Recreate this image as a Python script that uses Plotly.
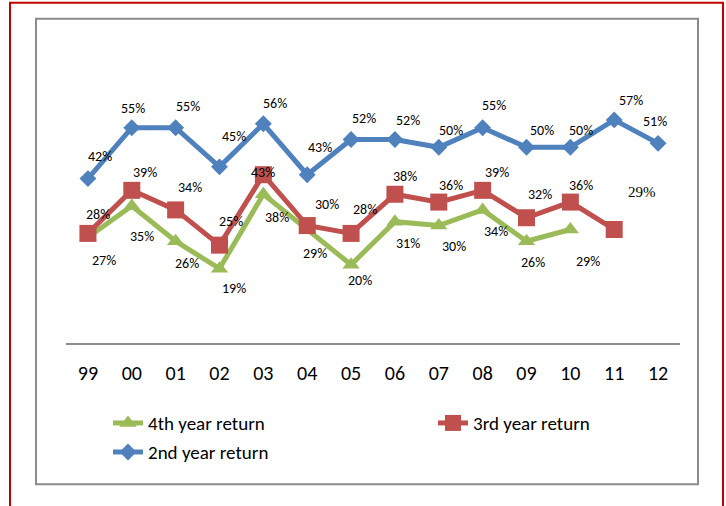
import plotly.graph_objects as go

# ---------------- data ----------------
years = ["99", "00", "01", "02", "03", "04", "05", "06", "07", "08", "09", "10", "11", "12"]
ret_4th = [27, 35, 26, 19, 38, 29, 20, 31, 30, 34, 26, 29]
ret_3rd = [28, 39, 34, 25, 43, 30, 28, 38, 36, 39, 32, 36, 29]
ret_2nd = [42, 55, 55, 45, 56, 43, 52, 52, 50, 55, 50, 50, 57, 51]

# label offsets in px (dx right, dy down) -- styling only
off_4th = [(16, 23), (10, 30), (11, 22), (14, 20), (14, 23), (8, 24), (9, 16),
           (13, 22), (15, 21), (13, 22), (6, 21), (18, 32)]
off_3rd = [(10, -19), (13, -18), (14, -22), (11, -24), (0, -2), (20, -21), (14, -24),
           (10, -18), (12, -17), (14, -18), (13, -23), (11, -17), (28, -37)]
off_2nd = [(12, -22), (1, -19), (12, -21), (14, -30), (12, -20), (13, -27), (13, -21),
           (13, -19), (12, -17), (11, -22), (15, -17), (11, -17), (17, -19), (-3, -22)]

GREEN, RED, BLUE = "#9BBB59", "#C0504D", "#4F81BD"
FONT = "Calibri, Carlito, Lato, sans-serif"
SERIF = "Liberation Serif"

W, H = 726, 506
L, R_EDGE, AXIS_Y = 66, 680, 343
YMAX = 70
PX_PER_UNIT = 3.91
T = AXIS_Y - YMAX * PX_PER_UNIT
PW, PH = R_EDGE - L, AXIS_Y - T


def px_x(px):
    return (px - L) / PW


def px_y(py):
    return (AXIS_Y - py) / PH


fig = go.Figure()

fig.add_trace(go.Scatter(
    x=years[:len(ret_4th)], y=ret_4th, name="4th year return", mode="lines+markers",
    line=dict(color=GREEN, width=5),
    marker=dict(symbol="triangle-up", size=15, color=GREEN),
    legend="legend", cliponaxis=False, hoverinfo="skip",
))
fig.add_trace(go.Scatter(
    x=years[:len(ret_3rd)], y=ret_3rd, name="3rd year return", mode="lines+markers",
    line=dict(color=RED, width=5),
    marker=dict(symbol="square", size=17, color=RED),
    legend="legend2", cliponaxis=False, hoverinfo="skip",
))
fig.add_trace(go.Scatter(
    x=years[:len(ret_2nd)], y=ret_2nd, name="2nd year return", mode="lines+markers",
    line=dict(color=BLUE, width=5),
    marker=dict(symbol="diamond", size=13, color=BLUE),
    legend="legend3", cliponaxis=False, hoverinfo="skip",
))

annotations = []
series = [(ret_4th, off_4th, False), (ret_3rd, off_3rd, True), (ret_2nd, off_2nd, False)]
for vals, offs, last_serif in series:
    n = len(vals)
    for i in range(n):
        v = vals[i]
        dx, dy = offs[i]
        serif = last_serif and (i == n - 1)
        fnt = dict(family=SERIF, size=15, color="#000000") if serif else \
            dict(family=FONT, size=14, color="#000000")
        annotations.append(dict(
            x=i, y=v, xref="x", yref="y", text=f"{v}%", showarrow=False,
            xshift=dx, yshift=-dy, font=fnt,
        ))

shapes = [
    # outer red frame
    dict(type="rect", xref="paper", yref="paper",
         x0=px_x(10), x1=px_x(723), y0=px_y(520), y1=px_y(3),
         line=dict(color="#C00000", width=2), layer="below"),
    # inner gray chart frame
    dict(type="rect", xref="paper", yref="paper",
         x0=px_x(36), x1=px_x(698), y0=px_y(484), y1=px_y(19),
         line=dict(color="#8C8C8C", width=2), layer="below"),
]

legend_common = dict(
    orientation="v", bgcolor="rgba(0,0,0,0)", borderwidth=0,
    font=dict(family=FONT, size=19, color="#000000"),
    xanchor="left", yanchor="middle", itemwidth=30,
)

fig.update_layout(
    width=W, height=H,
    margin=dict(l=L, r=W - R_EDGE, t=T, b=H - AXIS_Y),
    paper_bgcolor="white", plot_bgcolor="white",
    showlegend=True,
    legend=dict(**legend_common, x=px_x(108), y=px_y(423)),
    legend2=dict(**legend_common, x=px_x(433), y=px_y(423)),
    legend3=dict(**legend_common, x=px_x(108), y=px_y(452)),
    xaxis=dict(
        type="category", categoryorder="array", categoryarray=years,
        range=[-0.5, len(years) - 0.5],
        showline=True, linecolor="#8C8C8C", linewidth=1.5,
        showgrid=False, zeroline=False, ticks="",
        ticklabelstandoff=11,
        tickfont=dict(family=FONT, size=20, color="#000000"),
    ),
    yaxis=dict(range=[0, YMAX], visible=False, showgrid=False, zeroline=False),
    annotations=annotations,
    shapes=shapes,
)

fig.write_html(
    "out.html",
    config={"displayModeBar": False},
    post_script="document.body.style.margin='0';document.body.style.padding='0';",
)
